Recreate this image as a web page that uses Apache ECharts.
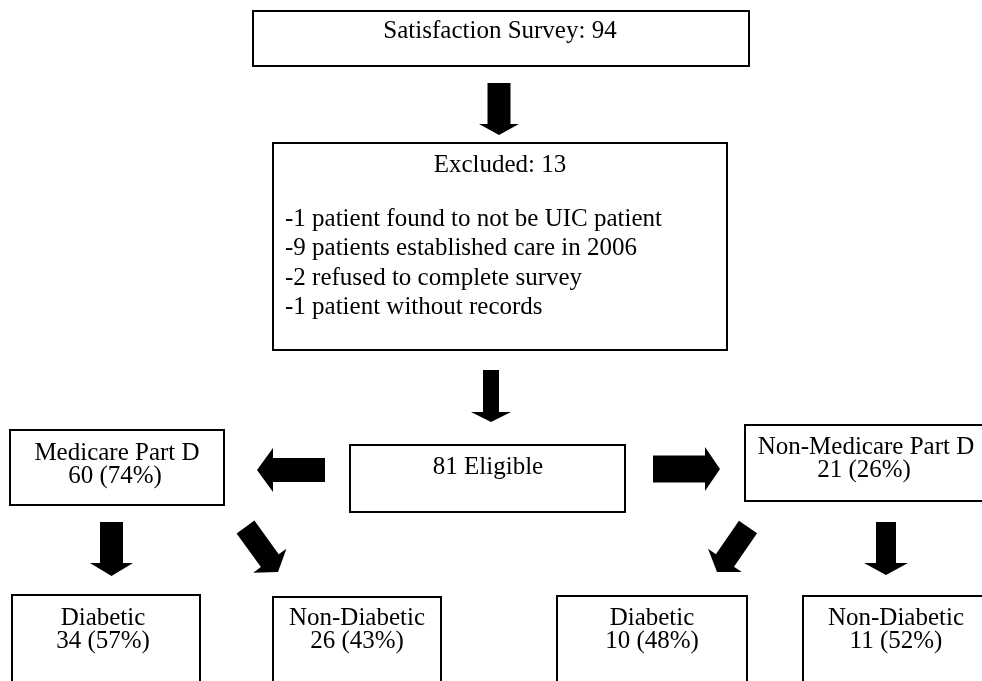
<!DOCTYPE html>
<html>
<head>
<meta charset="utf-8">
<script src="https://cdn.jsdelivr.net/npm/echarts@6/dist/echarts.min.js"></script>
<style>
  html, body { margin: 0; padding: 0; background: #fff; }
  #chart { width: 982px; height: 681px; }
</style>
</head>
<body>
<div id="chart"></div>
<script>
// flow chart values
const totalSurveyed = 94;
const excludedCount = 13;
const exclusionReasons = [
  '-1 patient found to not be UIC patient',
  '-9 patients established care in 2006',
  '-2 refused to complete survey',
  '-1 patient without records'
];
const eligibleCount = 81;
const groupNames = ['Medicare Part D', 'Non-Medicare Part D'];
const groupCounts = [60, 21];
const groupPcts = [74, 26];
const subNames = ['Diabetic', 'Non-Diabetic', 'Diabetic', 'Non-Diabetic'];
const subCounts = [34, 26, 10, 11];
const subPcts = [57, 43, 48, 52];

// layout (axis units = page pixels)
const boxLayout = [
  [253, 11, 749, 66],     // survey
  [273, 143, 727, 350],   // excluded
  [350, 445, 625, 512],   // eligible
  [10, 430, 224, 505],    // medicare
  [745, 425, 995, 501],   // non-medicare
  [12, 595, 200, 700],
  [273, 597, 441, 700],
  [557, 596, 747, 700],
  [803, 596, 995, 700]
];
// tailX, tailY, tipX, tipY, shaft width, head width, head length
const arrowLayout = [
  [499, 83, 499, 135, 23, 40, 11],
  [491, 370, 491, 422, 16, 40, 10],
  [325, 470, 257, 470, 24, 44, 16],
  [653, 469, 720, 469, 27, 44, 15],
  [111.5, 522, 111.5, 576, 23, 43, 13],
  [245.5, 527, 278, 572, 22, 41, 14],
  [748, 527, 717, 572, 22, 41, 14],
  [886, 522, 886, 575, 20, 44, 12]
];

// text entries: [string, x, y, align]
const textItems = [];
textItems.push(['Satisfaction Survey: ' + totalSurveyed, 500, 31, 'center']);
textItems.push(['Excluded: ' + excludedCount, 500, 165, 'center']);
exclusionReasons.forEach(function (r, i) {
  textItems.push([r, 285, 219 + i * 29.5, 'left']);
});
textItems.push([eligibleCount + ' Eligible', 488, 467, 'center']);
const groupX = [117, 866];
const groupY = [[453, 476], [447, 470]];
groupNames.forEach(function (g, i) {
  textItems.push([g, groupX[i], groupY[i][0], 'center']);
  textItems.push([groupCounts[i] + ' (' + groupPcts[i] + '%)', groupX[i] - 2, groupY[i][1], 'center']);
});
const subX = [103, 357, 652, 896];
subNames.forEach(function (s, i) {
  textItems.push([s, subX[i], 618, 'center']);
  textItems.push([subCounts[i] + ' (' + subPcts[i] + '%)', subX[i], 641, 'center']);
});

const FONT = '25px "Liberation Serif", "DejaVu Serif", serif';

function arrowPoints(a) {
  const dx = a[2] - a[0], dy = a[3] - a[1];
  const len = Math.sqrt(dx * dx + dy * dy);
  const ux = dx / len, uy = dy / len;
  const px = -uy, py = ux;
  const bx = a[2] - ux * a[6], by = a[3] - uy * a[6];
  const sw = a[4] / 2, hw = a[5] / 2;
  return [
    [a[0] + px * sw, a[1] + py * sw],
    [bx + px * sw, by + py * sw],
    [bx + px * hw, by + py * hw],
    [a[2], a[3]],
    [bx - px * hw, by - py * hw],
    [bx - px * sw, by - py * sw],
    [a[0] - px * sw, a[1] - py * sw]
  ];
}

const chart = echarts.init(document.getElementById('chart'));
chart.setOption({
  animation: false,
  backgroundColor: '#fff',
  grid: { left: 0, right: 0, top: 0, bottom: 0 },
  xAxis: { type: 'value', min: 0, max: 982, show: false },
  yAxis: { type: 'value', min: 0, max: 681, inverse: true, show: false },
  series: [
    {
      type: 'custom',
      name: 'boxes',
      clip: false,
      data: boxLayout,
      encode: { x: [0, 2], y: [1, 3] },
      renderItem: function (params, api) {
        const p0 = api.coord([api.value(0), api.value(1)]);
        const p1 = api.coord([api.value(2), api.value(3)]);
        return {
          type: 'rect',
          shape: { x: p0[0], y: p0[1], width: p1[0] - p0[0], height: p1[1] - p0[1] },
          style: { fill: '#fff', stroke: '#000', lineWidth: 2 }
        };
      }
    },
    {
      type: 'custom',
      name: 'arrows',
      clip: false,
      data: arrowLayout,
      encode: { x: [0, 2], y: [1, 3] },
      renderItem: function (params, api) {
        const a = [];
        for (let k = 0; k < 7; k++) a.push(api.value(k));
        const pts = arrowPoints(a).map(function (p) { return api.coord(p); });
        return {
          type: 'polygon',
          shape: { points: pts },
          style: { fill: '#000' }
        };
      }
    },
    {
      type: 'custom',
      name: 'labels',
      clip: false,
      data: textItems.map(function (t) { return [t[1], t[2]]; }),
      renderItem: function (params, api) {
        const t = textItems[params.dataIndex];
        const p = api.coord([api.value(0), api.value(1)]);
        return {
          type: 'text',
          style: {
            text: t[0],
            x: p[0],
            y: p[1],
            font: FONT,
            fill: '#000',
            align: t[3],
            textAlign: t[3],
            verticalAlign: 'middle',
            textVerticalAlign: 'middle'
          }
        };
      }
    }
  ]
});
</script>
</body>
</html>
